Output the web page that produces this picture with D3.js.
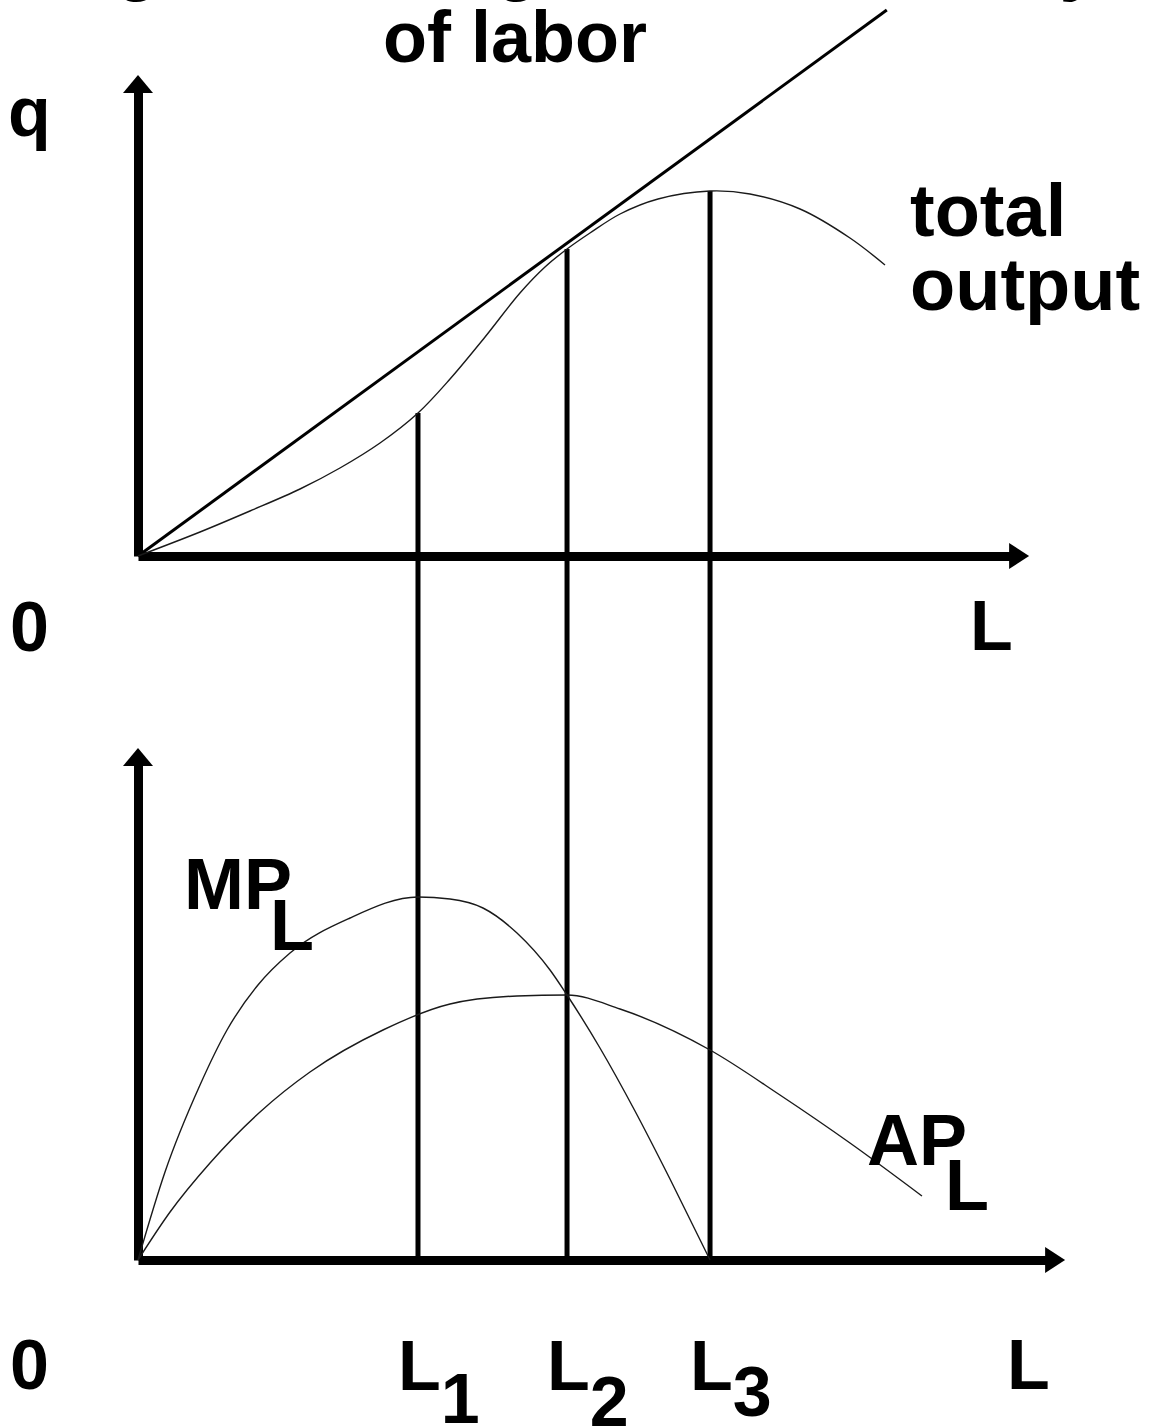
<!DOCTYPE html>
<html>
<head>
<meta charset="utf-8">
<style>
  body { margin: 0; background: #fff; }
  svg { display: block; }
  text { font-family: "Liberation Sans", Arial, sans-serif; font-weight: bold; fill: #000; }
  .axis .domain { stroke: #000; stroke-width: 9px; }
  .axis .tick { display: none; }
  .curve { fill: none; stroke: #1a1a1a; stroke-width: 1.4px; }
  .ray { fill: none; stroke: #000; stroke-width: 3px; }
  .mark { stroke: #000; stroke-width: 5px; }
</style>
</head>
<body>
<div class="chart"></div>
<script src="https://d3js.org/d3.v7.min.js"></script>
<script>
  // total output curve (labour L, output q)
  const tpL = [0, 6.89, 12.44, 18.0, 22.44, 26.89, 31.11, 34.67, 38.56, 42.44, 45.22, 47.67, 50.22, 53.56, 57.78, 63.56, 68.0, 73.56, 79.11, 83.0]
  const tpQ = [0, 4.8, 9.0, 13.4, 17.6, 22.6, 28.6, 35.4, 43.8, 52.6, 57.8, 61.4, 64.6, 68.4, 71.4, 73.0, 72.4, 69.4, 63.6, 58.2]

  // ray from the origin, tangent at L2
  const rayL = [0, 83.2]
  const rayQ = [0, 109.2]

  // marginal product of labour
  const mpL = [0, 3.0, 6.89, 9.89, 13.33, 16.89, 23.56, 31.11, 34.67, 38.33, 42.11, 45.78, 47.67, 51.33, 55.22, 59.11, 63.56]
  const mpV = [0, 17.6, 35.0, 46.0, 55.0, 61.4, 68.4, 72.6, 72.2, 70.4, 65.4, 58.0, 53.0, 42.4, 29.8, 16.2, 0]

  // average product of labour
  const apL = [0, 3.56, 8.0, 13.56, 19.11, 27.22, 34.67, 42.11, 47.67, 53.56, 63.56, 71.33, 79.11, 87.11]
  const apV = [0, 9.6, 19.4, 29.6, 37.6, 46.0, 51.2, 52.8, 53.0, 50.2, 42.0, 33.0, 23.4, 12.8]

  // L1, L2, L3 and the output reached there
  const markL = [31.11, 47.67, 63.56]
  const markQ = [28.6, 61.4, 73.0]
  const markSub = ['1', '2', '3']

  // axis extents (top panel, bottom panel)
  const axisEndL = [96.9, 100.9]
  const axisEndY = [92.8, 99]

  const svgWidth = 1163, svgHeight = 1428

  const svg = d3.select('.chart')
                .append('svg')
                .attr('width', svgWidth)
                .attr('height', svgHeight)

  const x = d3.scaleLinear().domain([0, 100]).range([138, 1038])
  const yTop = d3.scaleLinear().domain([0, 100]).range([556, 56])
  const yBot = d3.scaleLinear().domain([0, 100]).range([1260, 760])

  // axes without ticks, arrowheads added on top
  function drawAxes(yScale, i) {
    const xs = x.copy().domain([0, axisEndL[i]]).range([x(0), x(axisEndL[i])])
    const ys = yScale.copy().domain([0, axisEndY[i]]).range([yScale(0), yScale(axisEndY[i])])

    svg.append('g')
       .attr('class', 'axis')
       .attr('transform', `translate(0, ${yScale(0)})`)
       .call(d3.axisBottom(xs).tickValues([]).tickSizeOuter(0))

    svg.append('g')
       .attr('class', 'axis')
       .attr('transform', `translate(${x(0)}, 0)`)
       .call(d3.axisLeft(ys).tickValues([]).tickSizeOuter(0))

    const xb = x(axisEndL[i]), yb = yScale(axisEndY[i])
    svg.append('path')
       .attr('d', `M${xb + 19},${yScale(0)} L${xb - 1},${yScale(0) - 13} L${xb - 1},${yScale(0) + 13} Z`)
    svg.append('path')
       .attr('d', `M${x(0)},${yb - 17} L${x(0) - 15},${yb + 1} L${x(0) + 15},${yb + 1} Z`)
  }
  drawAxes(yTop, 0)
  drawAxes(yBot, 1)

  const zip = (a, b) => a.map((d, i) => [d, b[i]])

  const lineTop = d3.line().x(d => x(d[0])).y(d => yTop(d[1])).curve(d3.curveCatmullRom.alpha(0.5))
  const lineBot = d3.line().x(d => x(d[0])).y(d => yBot(d[1])).curve(d3.curveMonotoneX)

  // L1..L3 drop lines
  svg.append('g')
     .selectAll('line')
     .data(markL)
     .join('line')
     .attr('class', 'mark')
     .attr('x1', d => x(d))
     .attr('x2', d => x(d))
     .attr('y1', (d, i) => yTop(markQ[i]))
     .attr('y2', yBot(0))

  svg.append('path').attr('class', 'ray').attr('d', d3.line().x(d => x(d[0])).y(d => yTop(d[1]))(zip(rayL, rayQ)))
  svg.append('path').attr('class', 'curve').attr('d', lineTop(zip(tpL, tpQ)))
  svg.append('path').attr('class', 'curve').attr('d', lineBot(zip(mpL, mpV)))
  svg.append('path').attr('class', 'curve').attr('d', lineBot(zip(apL, apV)))

  // texts
  const fs = 70
  function label(tx, ty, str, size) {
    return svg.append('text').attr('x', tx).attr('y', ty).style('font-size', (size || fs) + 'px').text(str)
  }
  label(-82, -13, 'Average and Marginal Productivity', 72)
  label(515, 62, 'of labor', 72).attr('text-anchor', 'middle')
  label(8, 136, 'q')
  label(10, 651, '0')
  label(970, 650, 'L')
  label(10, 1389, '0')
  label(1007, 1389, 'L')
  label(910, 236, 'total', 74)
  label(910, 310, 'output', 74)

  const mp = label(184, 909, 'MP', 72)
  mp.append('tspan').attr('dx', -22).attr('dy', 41).text('L')
  const ap = label(867, 1165, 'AP', 72)
  ap.append('tspan').attr('dx', -22).attr('dy', 45).text('L')

  const subShift = [33, 36, 26]
  markL.forEach((d, i) => {
    const t = label(x(d) - 20, 1390, 'L')
    t.append('tspan').attr('dy', subShift[i]).text(markSub[i])
  })
</script>
</body>
</html>
